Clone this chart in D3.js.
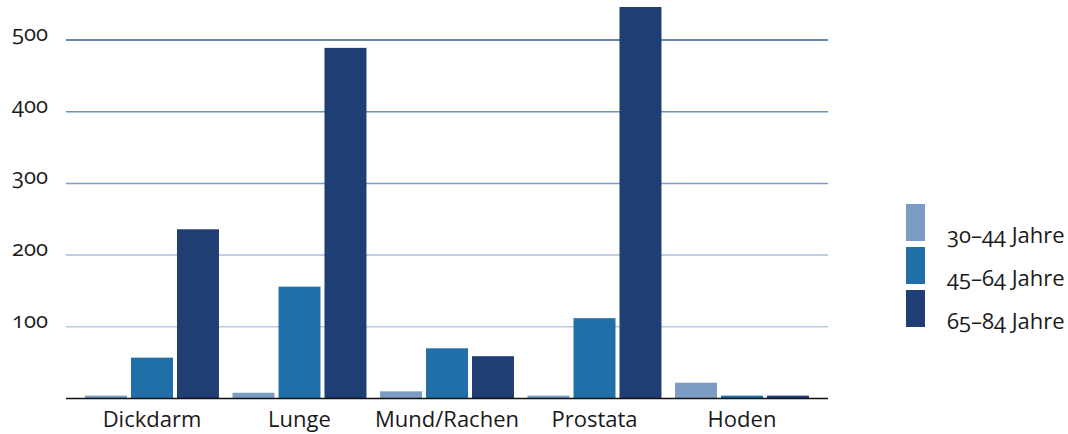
<!DOCTYPE html>
<html>
<head>
<meta charset="utf-8">
<script src="https://cdn.jsdelivr.net/npm/d3@7"></script>
<style>
  html, body { margin: 0; padding: 0; background: #fff; }
  svg { display: block; }
  text { font-family: "Open Sans", "Noto Sans", sans-serif; font-feature-settings: "onum" 1; font-variant-numeric: oldstyle-nums; fill: #1a1a1a; }
</style>
</head>
<body>
<svg id="chart" width="1068" height="434"></svg>
<script>
const categories = ["Dickdarm", "Lunge", "Mund/Rachen", "Prostata", "Hoden"];
const seriesNames = ["30–44 Jahre", "45–64 Jahre", "65–84 Jahre"];
const values30_44 = [4, 8, 10, 4, 22];
const values45_64 = [57, 156, 70, 112, 4];
const values65_84 = [236, 489, 59, 546, 4];
const yTicks = [100, 200, 300, 400, 500];
const colors = ["#7b9dc4", "#216fa8", "#1e3e74"];
const gridColors = ["#b8c9e1", "#a7bddb", "#7b9dc6", "#6592c2", "#3b5b8b"];

const seriesValues = [values30_44, values45_64, values65_84];
const svg = d3.select("#chart");
const mLeft = 66, mRight = 828, mTop = 40, mBottom = 398.5;

const y = d3.scaleLinear().domain([0, 500]).range([mBottom, mTop]);
const x0 = d3.scaleBand().domain(categories).range([mLeft, mRight]).paddingInner(0.092).paddingOuter(0.129);
const x1 = d3.scaleBand().domain(seriesNames).range([0, x0.bandwidth()]).paddingInner(0.087).paddingOuter(0);

// gridlines
svg.append("g").selectAll("line").data(yTicks).join("line")
  .attr("x1", mLeft).attr("x2", mRight)
  .attr("y1", d => y(d)).attr("y2", d => y(d))
  .attr("stroke", (d, i) => gridColors[i]).attr("stroke-width", 1.5);

// y labels
svg.append("g").selectAll("text").data(yTicks).join("text")
  .attr("x", 48).attr("y", d => y(d) + 1)
  .attr("text-anchor", "end")
  .attr("font-size", 22)
  .text(d => d);

// bars
const groups = svg.append("g").selectAll("g").data(categories).join("g")
  .attr("transform", d => `translate(${x0(d)},0)`);
groups.selectAll("rect").data((c, ci) => seriesNames.map((s, si) => ({s, si, v: seriesValues[si][ci]}))).join("rect")
  .attr("x", d => x1(d.s)).attr("width", x1.bandwidth())
  .attr("y", d => y(d.v)).attr("height", d => y(0) - y(d.v))
  .attr("fill", d => colors[d.si]);

// baseline
svg.append("line").attr("x1", mLeft).attr("x2", mRight).attr("y1", y(0)).attr("y2", y(0))
  .attr("stroke", "#111").attr("stroke-width", 1.5);

// x labels
svg.append("g").selectAll("text").data(categories).join("text")
  .attr("x", d => x0(d) + x0.bandwidth() / 2).attr("y", 427)
  .attr("text-anchor", "middle").attr("font-size", 22)
  .text(d => d);

// legend
const legend = svg.append("g").selectAll("g").data(seriesNames).join("g")
  .attr("transform", (d, i) => `translate(906,${204 + i * 43})`);
legend.append("rect").attr("width", 19).attr("height", 37).attr("fill", (d, i) => colors[i]);
legend.append("text").attr("x", 41).attr("y", 39).attr("font-size", 22).text(d => d);
</script>
</body>
</html>
